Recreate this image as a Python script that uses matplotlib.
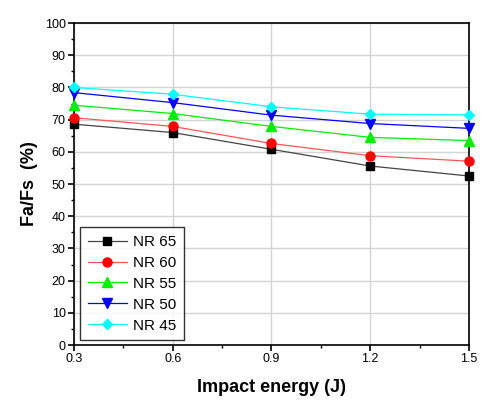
import matplotlib
matplotlib.use("Agg")
import matplotlib.pyplot as plt
from matplotlib.ticker import MultipleLocator

plt.rcParams['font.family'] = ['Liberation Sans', 'DejaVu Sans']

energy = [0.3, 0.6, 0.9, 1.2, 1.5]
nr65 = [68.6, 66.0, 60.8, 55.6, 52.5]
nr60 = [70.6, 67.9, 62.6, 58.8, 57.1]
nr55 = [74.5, 71.9, 67.9, 64.5, 63.5]
nr50 = [78.4, 75.3, 71.4, 68.8, 67.3]
nr45 = [80.0, 77.9, 74.0, 71.7, 71.5]

series = [
    ("NR 65", nr65, "black", "s", "#444444", 5.5),
    ("NR 60", nr60, "red", "o", "#ff5555", 6.5),
    ("NR 55", nr55, "#00ee00", "^", "#00ee00", 6.5),
    ("NR 50", nr50, "blue", "v", "blue", 6.5),
    ("NR 45", nr45, "cyan", "D", "cyan", 5.5),
]

fig = plt.figure(figsize=(4.82, 4.13), dpi=100)
ax = fig.add_axes([0.1535, 0.1646, 0.8195, 0.7795])

for label, vals, mcol, mk, lcol, ms in series:
    ax.plot(energy, vals, color=lcol, lw=0.9, marker=mk, markersize=ms,
            markerfacecolor=mcol, markeredgecolor=mcol, label=label, clip_on=False, zorder=3)

ax.set_xlim(0.3, 1.5)
ax.set_ylim(0, 100)
ax.xaxis.set_minor_locator(MultipleLocator(0.15))
ax.yaxis.set_major_locator(MultipleLocator(10))
ax.yaxis.set_minor_locator(MultipleLocator(5))
ax.set_xticks(energy)
ax.set_xticklabels(["0.3", "0.6", "0.9", "1.2", "1.5"])
ax.grid(True, which='major', color='#d4d4d4', lw=1.0, zorder=0)
ax.set_axisbelow(True)
ax.tick_params(which='major', direction='out', length=4, width=1.2, labelsize=9, colors='black', pad=2)
ax.tick_params(which='minor', direction='out', length=2.5, width=1.0)
for sp in ax.spines.values():
    sp.set_linewidth(1.2)

ax.set_xlabel("Impact energy (J)", fontsize=13, fontweight='bold', labelpad=10)
ax.set_ylabel("Fa/Fs  (%)", fontsize=13, fontweight='bold', labelpad=5)

leg = ax.legend(loc='lower left', bbox_to_anchor=(0.015, 0.015), fontsize=11, frameon=True,
                fancybox=False, edgecolor='black', handlelength=2.6, labelspacing=0.45,
                borderpad=0.5, handletextpad=0.4, borderaxespad=0)
leg.get_frame().set_linewidth(1.0)

fig.savefig("out.png", dpi=100)
